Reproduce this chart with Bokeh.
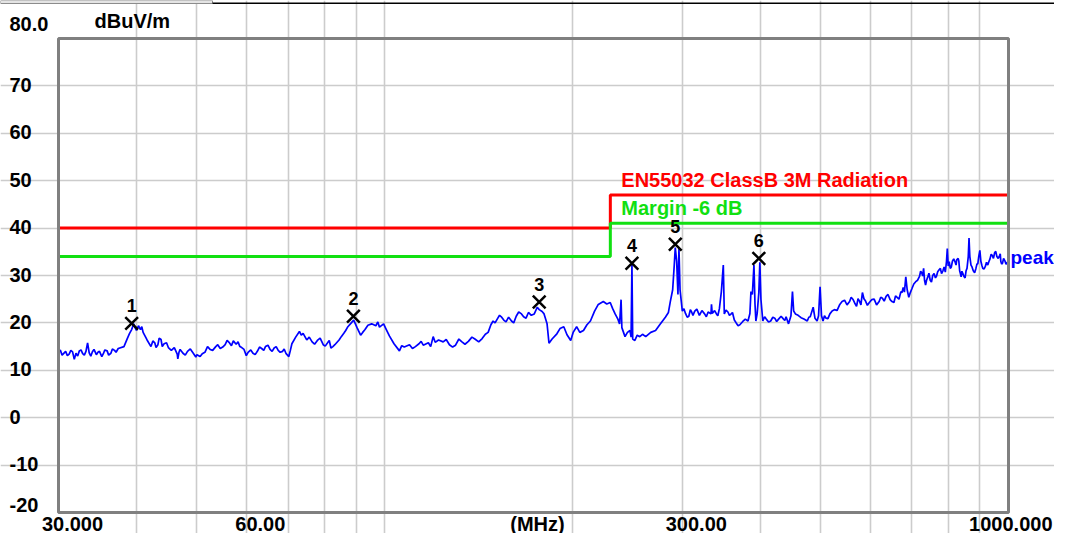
import math
from bokeh.plotting import figure
from bokeh.models import Label, FixedTicker, Range1d, ColumnDataSource, BoxAnnotation
from bokeh.core.properties import value
from bokeh.embed import file_html
from bokeh.resources import INLINE

# ---------------- data ----------------
# main outline of the "peak" trace
freq = [30.0, 30.4, 30.8, 31.2, 31.6, 31.8, 32.0, 32.4, 32.8, 33.2, 33.4, 33.6, 34.0, 34.5, 34.9,
        35.4, 35.9, 36.4, 36.9, 37.4, 38.2, 38.7, 39.3, 39.8, 40.3, 40.6, 41.0, 41.6, 42.2, 42.8,
        43.3, 43.8, 44.3, 45.0, 45.5, 46.0, 46.5, 46.6, 46.8, 47.5, 48.3, 49.4, 50.0, 50.6, 51.5,
        52.5, 53.6, 54.5, 55.5, 56.3, 57.2, 57.8, 58.6, 59.5, 60.4, 61.5, 62.5, 63.5, 64.4, 65.5,
        66.5, 67.5, 68.6, 69.5, 70.2, 70.6, 71.0, 72.0, 73.0, 73.5, 74.0, 75.0, 76.5, 78.0, 79.7,
        81.0, 82.0, 83.2, 84.5, 86.0, 87.3, 88.4, 89.2, 90.3, 91.5, 93.0, 95.3, 96.8, 98.1, 99.6,
        100.6, 101.8, 103.5, 105.6, 107.5, 109.6, 112.0, 113.5, 115.3, 117.5, 119.6, 120.5, 122.0, 124.1, 127.0,
        129.9, 133.0, 136.2, 139.5, 143.3, 145.0, 146.5, 148.0, 149.2, 151.5, 154.0, 156.5, 159.7, 162.5, 165.7,
        168.5, 171.8, 173.7, 175.6, 176.9, 178.8, 180.1, 182.1, 183.4, 185.5, 188.8, 191.0, 193.7, 196.0, 198.7,
        200.5, 203.1, 205.5, 208.3, 211.0, 213.7, 217.0, 220.0, 224.1, 227.0, 229.9, 232.0, 234.1, 236.5, 238.0,
        239.3, 240.0, 242.8, 245.0, 247.3, 248.3, 249.1, 249.8, 251.8, 254.0, 256.4, 259.0, 262.1, 267.0, 271.8,
        276.0, 281.8, 285.0, 287.0, 289.5, 291.2, 292.3, 293.8, 295.2, 296.3, 297.5, 300.0, 303.5, 307.3, 310.5,
        314.1, 319.5, 325.7, 330.0, 333.5, 334.1, 335.0, 340.3, 344.0, 346.5, 349.0, 350.3, 355.0, 359.3, 363.5,
        368.6, 375.0, 382.3, 385.0, 386.5, 388.5, 390.8, 392.3, 393.6, 395.5, 397.9, 399.4, 401.0, 403.8, 409.0,
        415.7, 422.0, 428.0, 435.9, 440.0, 444.0, 448.0, 450.5, 452.5, 455.4, 465.0, 475.8, 481.0, 486.3, 489.5,
        493.4, 496.0, 498.8, 501.5, 504.3, 510.0, 517.2, 526.0, 536.5, 546.0, 556.3, 563.0, 570.7, 577.0, 583.2,
        590.0, 598.3, 609.0, 620.4, 628.0, 636.5, 646.0, 655.2, 663.0, 672.2, 678.0, 684.5, 688.0, 692.1, 700.0,
        710.0, 720.0, 726.0, 731.0, 733.5, 736.3, 742.0, 749.0, 756.0, 763.7, 770.0, 777.7, 785.0, 792.0, 795.5,
        797.8, 800.5, 806.6, 813.0, 821.4, 826.0, 830.4, 835.0, 839.6, 845.0, 851.9, 858.0, 862.0, 864.4, 867.0,
        870.7, 878.0, 886.7, 893.0, 896.0, 899.7, 903.0, 909.6, 918.0, 926.3, 934.0, 942.0, 950.1, 958.0, 967.6,
        972.0, 978.3, 986.0, 996.2, 1000.0]
level = [13.8, 13.2, 14.0, 13.4, 13.9, 12.3, 13.6, 14.1, 13.5, 14.0, 15.8, 13.7, 13.9, 13.3, 14.0,
         13.5, 14.1, 13.6, 14.2, 14.6, 15.0, 16.8, 18.6, 19.0, 19.4, 18.6, 18.0, 16.4, 15.0, 15.8,
         15.4, 16.5, 15.6, 14.8, 14.2, 14.8, 13.4, 12.4, 13.8, 13.6, 14.0, 13.5, 13.3, 12.9, 13.8,
         14.4, 15.0, 14.6, 15.4, 15.9, 16.2, 15.5, 15.0, 14.4, 13.8, 13.6, 14.0, 14.6, 15.0, 14.4,
         14.7, 14.2, 14.0, 13.5, 12.9, 14.2, 15.6, 17.0, 18.2, 17.4, 17.8, 16.4, 16.0, 16.3, 15.4,
         15.8, 14.7, 15.4, 16.4, 17.8, 19.2, 20.0, 20.6, 19.0, 17.4, 18.6, 19.8, 19.4, 19.1, 19.8,
         18.6, 17.2, 15.6, 14.1, 14.9, 15.4, 15.0, 15.6, 15.3, 15.8, 17.1, 15.9, 16.4, 16.0, 15.4,
         15.3, 16.0, 16.1, 16.6, 16.7, 17.6, 18.0, 19.6, 20.4, 20.8, 21.2, 20.2, 20.4, 21.4, 21.9,
         21.0, 21.6, 21.9, 23.3, 22.8, 22.4, 21.9, 19.8, 15.7, 16.6, 17.7, 18.8, 19.2, 17.5, 16.3,
         18.0, 19.2, 18.0, 18.4, 19.6, 20.4, 22.5, 23.9, 24.5, 24.0, 24.3, 23.0, 21.9, 20.8, 19.8,
         24.9, 19.0, 17.1, 18.0, 18.4, 17.0, 32.2, 16.6, 16.3, 17.4, 17.1, 17.6, 17.1, 18.0, 18.4,
         19.6, 21.2, 22.2, 24.5, 27.0, 32.2, 35.9, 33.0, 26.0, 35.7, 27.0, 22.5, 22.0, 21.4, 22.3,
         22.5, 21.6, 21.9, 22.3, 21.9, 23.9, 22.0, 21.9, 23.0, 26.6, 32.2, 21.9, 22.3, 21.9, 20.6,
         19.4, 20.3, 20.4, 22.0, 26.6, 26.0, 32.2, 24.0, 20.4, 22.0, 26.4, 32.8, 25.0, 20.4, 20.8,
         20.4, 21.0, 20.8, 20.8, 21.3, 19.8, 21.5, 26.6, 22.5, 21.9, 21.1, 20.4, 21.3, 23.3, 21.0,
         20.4, 21.5, 27.6, 21.5, 20.4, 21.0, 21.9, 22.8, 23.9, 24.8, 24.5, 25.0, 23.5, 24.6, 26.4,
         24.6, 24.3, 25.0, 24.5, 25.2, 25.6, 24.9, 24.3, 25.4, 26.6, 27.5, 29.7, 27.0, 25.4, 27.2,
         28.7, 29.8, 30.6, 31.5, 29.0, 28.0, 29.6, 29.0, 30.0, 29.5, 30.8, 31.5, 31.0, 30.7, 33.0,
         35.7, 32.0, 31.5, 33.0, 32.8, 33.3, 33.6, 31.0, 29.7, 30.4, 29.5, 31.5, 34.0, 37.9, 34.0,
         32.2, 31.0, 31.5, 32.5, 34.0, 35.3, 33.0, 31.5, 31.9, 32.2, 33.5, 34.2, 34.8, 34.0, 34.2,
         33.0, 32.6, 33.2, 32.8, 33.0]

# finer jitter of the same trace, read between the outline points
detail_freq = [30.2, 31.0, 31.4, 32.2, 32.6, 33.0, 33.8, 34.2, 34.7, 35.2, 35.6, 36.1, 36.6, 37.1,
               39.0, 39.6, 40.0, 40.8, 41.3, 42.5, 43.0, 43.5, 44.0, 44.7, 47.0, 47.9, 48.8, 49.8,
               51.0, 52.0, 53.0, 54.0, 55.0, 55.9, 56.8, 58.2, 59.0, 60.0, 61.0, 62.0, 63.0, 64.0,
               65.0, 66.0, 67.0, 68.0, 69.0,
               75.7, 77.2, 78.8, 80.3, 81.5, 82.6, 85.2, 86.6, 92.2, 94.0, 97.5,
               106.5, 110.8, 114.4, 118.5, 125.5, 128.5, 131.5, 134.5, 138.0, 141.5,
               150.3, 152.8, 155.2, 158.0, 161.0, 164.0, 167.0, 170.0,
               301.8, 305.5, 309.0, 312.0, 316.5, 322.5, 327.8, 338.0, 342.0, 352.5, 357.0, 361.0,
               366.0, 371.0, 378.5, 406.5, 412.5, 419.0, 425.0, 432.0, 438.0, 460.0, 470.0, 478.5,
               507.0, 513.5, 521.5, 531.0, 541.0, 551.0, 559.5, 566.8, 573.8, 580.0, 586.5, 594.0,
               603.5, 614.5, 624.0, 632.0, 641.0, 650.5, 659.0, 667.5, 675.0, 681.0, 696.0,
               705.0, 715.0, 723.0, 728.5, 739.0, 745.5, 752.5, 759.8, 766.8, 774.0, 781.0, 788.5,
               803.5, 809.8, 817.0, 824.0, 832.5, 837.3, 842.0, 848.5, 855.0, 874.0, 882.5, 890.0,
               906.5, 914.0, 922.0, 930.0, 938.0, 946.0, 954.0, 962.8, 970.0, 975.0, 982.0, 991.0]
detail_level = [14.3, 13.1, 14.2, 13.0, 14.3, 13.2, 13.0, 14.4, 13.8, 12.9, 14.3, 13.2, 14.5, 13.8,
                17.8, 19.8, 18.4, 19.2, 17.2, 16.2, 14.8, 16.8, 15.0, 15.8, 14.4, 13.2, 14.5, 12.8,
                13.5, 15.0, 14.2, 15.4, 14.9, 16.3, 15.2, 16.0, 14.8, 13.1, 14.3, 13.3, 14.9, 14.2,
                15.3, 14.0, 15.0, 13.8, 14.5,
                17.0, 15.5, 16.8, 15.1, 16.3, 15.0, 17.1, 18.4, 18.0, 19.5, 20.2,
                15.2, 14.6, 16.1, 15.0, 16.5, 14.9, 16.6, 15.5, 17.0, 16.0,
                20.0, 21.6, 20.6, 21.2, 20.0, 22.3, 21.3, 22.2,
                23.0, 21.2, 22.8, 21.6, 22.9, 22.6, 21.3, 22.6, 21.5, 22.7, 21.6, 22.2,
                20.0, 19.6, 20.8, 21.3, 20.2, 21.2, 20.3, 21.4, 20.5, 21.6, 20.8, 21.2,
                21.5, 20.9, 22.5, 22.6, 24.5, 23.8, 25.4, 24.2, 25.1, 23.8, 25.1, 23.7,
                24.9, 23.8, 25.4, 24.6, 26.0, 24.5, 25.7, 25.0, 26.4, 26.5, 26.4,
                28.2, 29.0, 30.9, 29.9, 29.0, 30.5, 28.6, 30.4, 29.9, 31.2, 30.4, 31.8,
                32.9, 31.8, 33.5, 32.2, 33.0, 30.4, 30.9, 29.8, 31.0, 31.8, 30.6, 32.4,
                32.1, 31.4, 32.8, 32.9, 34.5, 33.6, 35.1, 33.6, 34.6, 32.4, 33.6, 32.4]

limit_freq = [30, 230, 230, 1000]
limit_level = [40, 40, 47, 47]
margin_level = [34, 34, 41, 41]

marker_freq = [39.3, 89.1, 176.9, 249.1, 292.3, 397.9]
marker_level = [19.9, 21.4, 24.4, 32.6, 36.6, 33.6]
marker_label = ["1", "2", "3", "4", "5", "6"]

x_ticks = [30, 60, 300, 1000]
x_tick_labels = ["30.000", "60.00", "300.00", "1000.000"]
x_grid = [40, 50, 60, 70, 80, 90, 100, 200, 300, 400, 500, 600, 700, 800, 900]
y_ticks = [-20, -10, 0, 10, 20, 30, 40, 50, 60, 70, 80]
y_tick_labels = ["-20", "-10", "0", "10", "20", "30", "40", "50", "60", "70", "80.0"]

limit_name = "EN55032 ClassB 3M Radiation"
margin_name = "Margin -6 dB"
trace_name = "peak"
y_unit = "dBuV/m"
x_unit = "(MHz)"

# merged trace, ordered by frequency
trace = sorted(zip(freq + detail_freq, level + detail_level))
trace_freq = [f for f, _ in trace]
trace_level = [v for _, v in trace]

# ---------------- layout (pixels) ----------------
W, H = 1054, 533
BOX_L, BOX_R, BOX_T, BOX_B = 58, 1008, 38, 512
XMIN, XMAX = x_ticks[0], x_ticks[-1]
YMIN, YMAX = y_ticks[0], y_ticks[-1]
kx = (BOX_R - BOX_L) / math.log10(XMAX / XMIN)
ky = (BOX_B - BOX_T) / (YMAX - YMIN)
x_start = 10 ** (math.log10(XMIN) - BOX_L / kx)
x_end = 10 ** (math.log10(XMAX) + (W - BOX_R) / kx)
y_start = YMIN - (H - BOX_B) / ky
y_end = YMAX + BOX_T / ky

def px_x(px):
    return 10 ** (math.log10(XMIN) + (px - BOX_L) / kx)

def px_y(py):
    return YMAX - (py - BOX_T) / ky

FONT = "Liberation Sans"
p = figure(width=W, height=H, x_axis_type="log",
           x_range=Range1d(x_start, x_end), y_range=Range1d(y_start, y_end),
           x_axis_location=None, y_axis_location=None,
           output_backend="svg", toolbar_location=None,
           min_border=0, min_border_left=0, min_border_right=0,
           min_border_top=0, min_border_bottom=0)
p.title.visible = False
p.background_fill_color = "white"
p.border_fill_color = "white"
p.outline_line_color = None

p.xgrid.ticker = FixedTicker(ticks=x_grid)
p.xgrid.bounds = (YMIN, YMAX)
p.ygrid.ticker = FixedTicker(ticks=y_ticks[1:-1])
p.ygrid.bounds = (XMIN, XMAX)
for g in (p.xgrid, p.ygrid):
    g.grid_line_color = "#cccccc"
    g.grid_line_width = 1.6

# window strip at the very top
p.add_layout(BoxAnnotation(left=px_x(0), right=px_x(212), top=px_y(0), bottom=px_y(3),
                           fill_color="#e4e4e4", fill_alpha=1, line_color="#8c8c8c",
                           line_alpha=1, line_width=1))
p.add_layout(BoxAnnotation(left=px_x(212), right=px_x(W), top=px_y(2), bottom=px_y(3.6),
                           fill_color="black", fill_alpha=1, line_alpha=0))

# limit and margin
p.line(limit_freq, limit_level, line_color="#ff0000", line_width=3)
p.line(limit_freq, margin_level, line_color="#11e011", line_width=3)

# trace
p.line(trace_freq, trace_level, line_color="#0000ff", line_width=1.7)

# plot box
p.add_layout(BoxAnnotation(left=XMIN, right=XMAX, bottom=YMIN, top=YMAX,
                           fill_alpha=0, line_color="#808080", line_alpha=1, line_width=3))

# markers
msrc = ColumnDataSource(dict(x=marker_freq, y=marker_level, t=marker_label))
p.scatter("x", "y", source=msrc, marker="x", size=18, line_color="black", line_width=2.5)
p.text("x", "y", text="t", source=msrc, text_font=value(FONT), text_font_style="bold",
       text_font_size="18px", text_color="black", text_align="center",
       text_baseline="middle", y_offset=-18)

def lab(**kw):
    base = dict(text_font=FONT, text_font_style="bold", text_font_size="20px", text_color="black")
    base.update(kw)
    p.add_layout(Label(**base))

# y tick labels
for v, t in zip(y_ticks, y_tick_labels):
    off = 15 if v == YMAX else (8 if v == YMIN else 1)
    lab(x=9, x_units="screen", y=v, y_units="data", text=t,
        text_align="left", text_baseline="middle", y_offset=off)

lab(x=94, x_units="screen", y=YMAX, y_units="data", text=y_unit,
    text_align="left", text_baseline="middle", y_offset=18)

# x tick labels
for v, t in zip(x_ticks, x_tick_labels):
    if v == XMAX:
        lab(x=v, y=YMIN, text=t, text_align="right", text_baseline="middle",
            x_offset=W - 2 - BOX_R, y_offset=-11)
    else:
        lab(x=v, y=YMIN, text=t, text_align="center", text_baseline="middle",
            x_offset=14, y_offset=-11)
lab(x=math.sqrt(XMIN * XMAX), y=YMIN, text=x_unit, text_align="center",
    text_baseline="middle", x_offset=4, y_offset=-11)

# series labels
lab(x=limit_freq[1], y=limit_level[-1], text=limit_name, text_color="#ff0000",
    text_align="left", text_baseline="middle", x_offset=11, y_offset=15)
lab(x=limit_freq[1], y=margin_level[-1], text=margin_name, text_color="#11e011",
    text_align="left", text_baseline="middle", x_offset=11, y_offset=15)
lab(x=trace_freq[-1], y=trace_level[-1], text=trace_name, text_color="#0000ff", text_font_size="19px",
    text_align="left", text_baseline="middle", x_offset=2, y_offset=4)

open("out.html", "w").write(file_html(p, INLINE))
